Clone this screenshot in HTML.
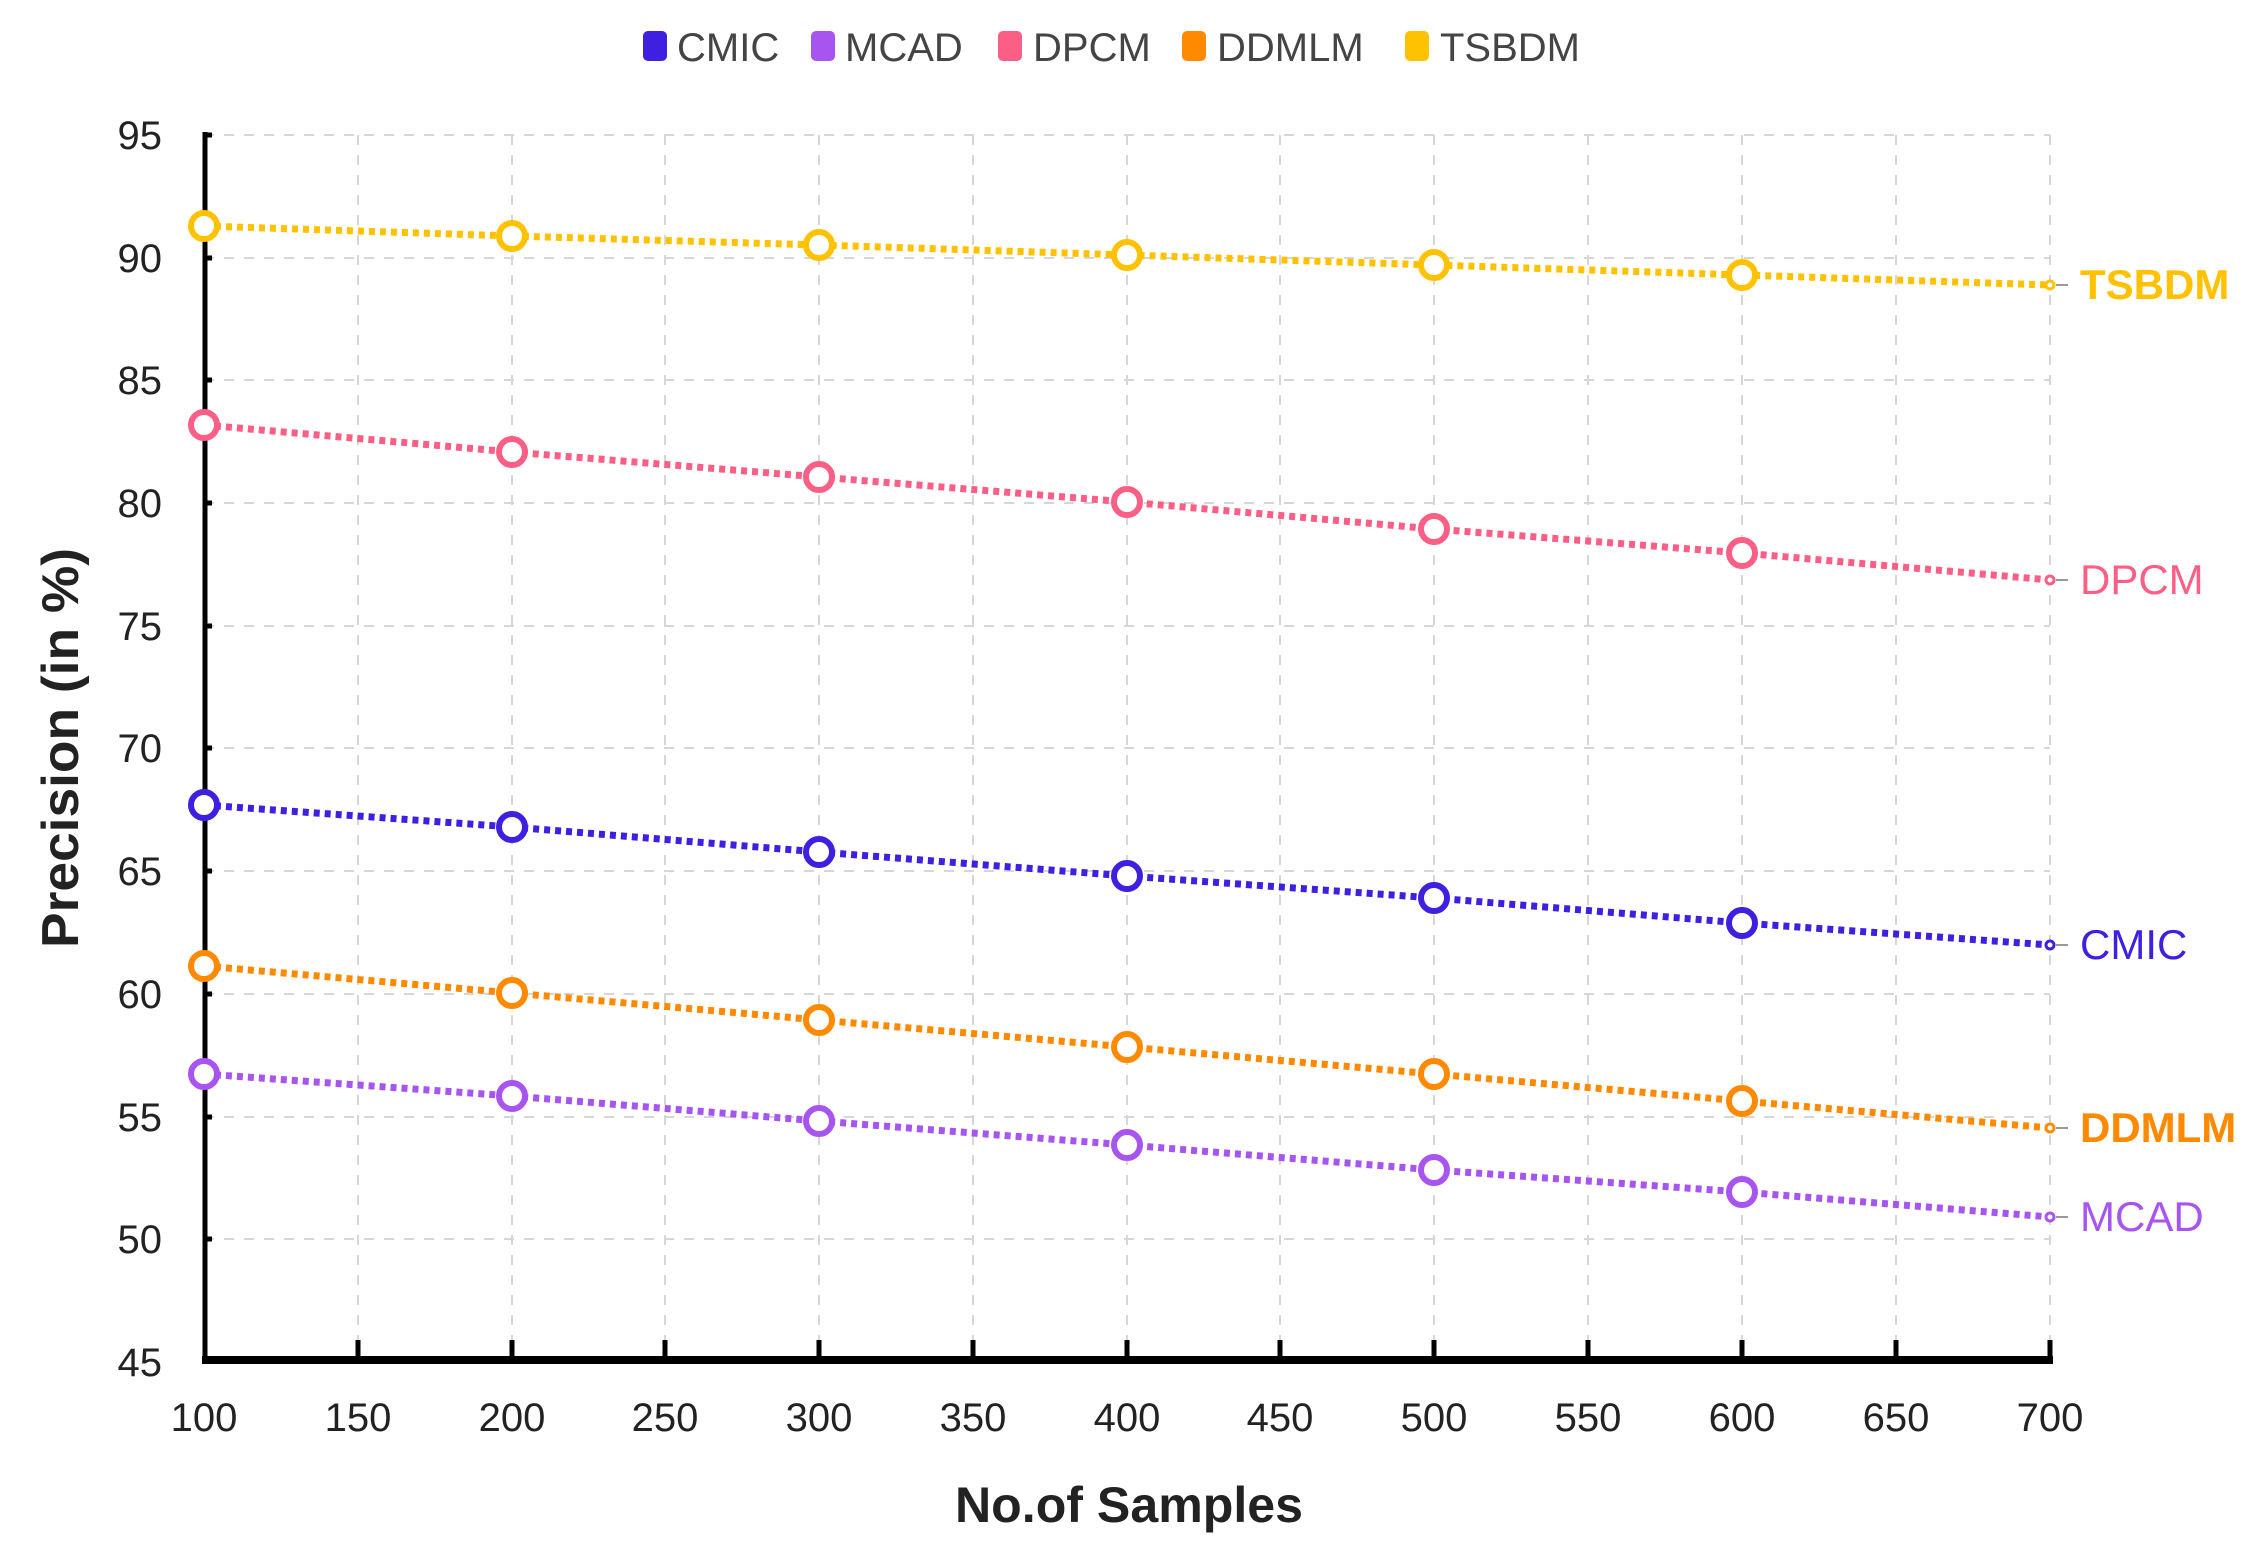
<!DOCTYPE html>
<html><head><meta charset="utf-8"><style>
html,body{margin:0;padding:0;background:#fff;}
svg{display:block;}
text{font-family:"Liberation Sans",sans-serif;}
</style></head><body>
<svg width="2264" height="1552" viewBox="0 0 2264 1552" xmlns="http://www.w3.org/2000/svg">
<rect width="2264" height="1552" fill="#fff"/>
<g stroke="#d6d6d6" stroke-width="2" stroke-dasharray="10 10">
<line x1="204" y1="135" x2="2050" y2="135"/><line x1="204" y1="258" x2="2050" y2="258"/><line x1="204" y1="380" x2="2050" y2="380"/><line x1="204" y1="503" x2="2050" y2="503"/><line x1="204" y1="626" x2="2050" y2="626"/><line x1="204" y1="748" x2="2050" y2="748"/><line x1="204" y1="871" x2="2050" y2="871"/><line x1="204" y1="994" x2="2050" y2="994"/><line x1="204" y1="1117" x2="2050" y2="1117"/><line x1="204" y1="1239" x2="2050" y2="1239"/>
<line x1="358" y1="135" x2="358" y2="1360"/><line x1="512" y1="135" x2="512" y2="1360"/><line x1="665" y1="135" x2="665" y2="1360"/><line x1="819" y1="135" x2="819" y2="1360"/><line x1="973" y1="135" x2="973" y2="1360"/><line x1="1127" y1="135" x2="1127" y2="1360"/><line x1="1280" y1="135" x2="1280" y2="1360"/><line x1="1434" y1="135" x2="1434" y2="1360"/><line x1="1588" y1="135" x2="1588" y2="1360"/><line x1="1742" y1="135" x2="1742" y2="1360"/><line x1="1896" y1="135" x2="1896" y2="1360"/><line x1="2050" y1="135" x2="2050" y2="1360"/>
</g>
<g stroke="#000">
<line x1="205" y1="132" x2="205" y2="1362" stroke-width="5"/>
<line x1="202" y1="1360" x2="2053" y2="1360" stroke-width="8"/>
<g stroke-width="5"><line x1="358" y1="1340" x2="358" y2="1360"/><line x1="512" y1="1340" x2="512" y2="1360"/><line x1="665" y1="1340" x2="665" y2="1360"/><line x1="819" y1="1340" x2="819" y2="1360"/><line x1="973" y1="1340" x2="973" y2="1360"/><line x1="1127" y1="1340" x2="1127" y2="1360"/><line x1="1280" y1="1340" x2="1280" y2="1360"/><line x1="1434" y1="1340" x2="1434" y2="1360"/><line x1="1588" y1="1340" x2="1588" y2="1360"/><line x1="1742" y1="1340" x2="1742" y2="1360"/><line x1="1896" y1="1340" x2="1896" y2="1360"/><line x1="2050" y1="1340" x2="2050" y2="1360"/>
<line x1="205" y1="135" x2="212" y2="135"/><line x1="205" y1="258" x2="212" y2="258"/><line x1="205" y1="380" x2="212" y2="380"/><line x1="205" y1="503" x2="212" y2="503"/><line x1="205" y1="626" x2="212" y2="626"/><line x1="205" y1="748" x2="212" y2="748"/><line x1="205" y1="871" x2="212" y2="871"/><line x1="205" y1="994" x2="212" y2="994"/><line x1="205" y1="1117" x2="212" y2="1117"/><line x1="205" y1="1239" x2="212" y2="1239"/></g>
</g>
<g font-size="40" fill="#222" text-anchor="end">
<text x="162" y="149">95</text><text x="162" y="272">90</text><text x="162" y="394">85</text><text x="162" y="517">80</text><text x="162" y="640">75</text><text x="162" y="762">70</text><text x="162" y="885">65</text><text x="162" y="1008">60</text><text x="162" y="1131">55</text><text x="162" y="1253">50</text><text x="162" y="1376">45</text>
</g>
<g font-size="40" fill="#222" text-anchor="middle">
<text x="204" y="1431">100</text><text x="358" y="1431">150</text><text x="512" y="1431">200</text><text x="665" y="1431">250</text><text x="819" y="1431">300</text><text x="973" y="1431">350</text><text x="1127" y="1431">400</text><text x="1280" y="1431">450</text><text x="1434" y="1431">500</text><text x="1588" y="1431">550</text><text x="1742" y="1431">600</text><text x="1896" y="1431">650</text><text x="2050" y="1431">700</text>
</g>
<text x="1129" y="1522" font-size="50" font-weight="bold" fill="#222" text-anchor="middle" textLength="348" lengthAdjust="spacingAndGlyphs">No.of Samples</text>
<text transform="translate(78,748) rotate(-90)" font-size="52" font-weight="bold" fill="#222" text-anchor="middle" textLength="400" lengthAdjust="spacingAndGlyphs">Precision (in %)</text>
<g font-size="40" fill="#444">
<rect x="643" y="31" width="24" height="30" rx="5" fill="#3f1fe0"/><text x="677" y="61">CMIC</text>
<rect x="811" y="31" width="24" height="30" rx="5" fill="#a855f0"/><text x="845" y="61">MCAD</text>
<rect x="998" y="31" width="24" height="30" rx="5" fill="#fb5f86"/><text x="1033" y="61">DPCM</text>
<rect x="1182" y="31" width="24" height="30" rx="5" fill="#ff8a00"/><text x="1217" y="61">DDMLM</text>
<rect x="1405" y="31" width="24" height="30" rx="5" fill="#ffc200"/><text x="1440" y="61">TSBDM</text>
</g>
<g stroke-width="7" fill="none" stroke-dasharray="6 5">
<polyline stroke="#ffc200" points="204,226 512,236 819,245 1127,255 1434,265 1742,275 2050,285"/>
<polyline stroke="#fb5f86" points="204,425 512,452 819,477 1127,502 1434,529 1742,553 2050,580"/>
<polyline stroke="#3f1fe0" points="204,805 512,827 819,852 1127,876 1434,898 1742,923 2050,945"/>
<polyline stroke="#ff8a00" points="204,966 512,993 819,1020 1127,1047 1434,1074 1742,1101 2050,1128"/>
<polyline stroke="#a855f0" points="204,1074 512,1096 819,1121 1127,1145 1434,1170 1742,1192 2050,1217"/>
</g>
<g fill="#fff" stroke-width="6">
<g stroke="#ffc200"><circle cx="204" cy="226" r="13"/><circle cx="512" cy="236" r="13"/><circle cx="819" cy="245" r="13"/><circle cx="1127" cy="255" r="13"/><circle cx="1434" cy="265" r="13"/><circle cx="1742" cy="275" r="13"/><circle cx="2050" cy="285" r="4" stroke-width="3"/></g>
<g stroke="#fb5f86"><circle cx="204" cy="425" r="13"/><circle cx="512" cy="452" r="13"/><circle cx="819" cy="477" r="13"/><circle cx="1127" cy="502" r="13"/><circle cx="1434" cy="529" r="13"/><circle cx="1742" cy="553" r="13"/><circle cx="2050" cy="580" r="4" stroke-width="3"/></g>
<g stroke="#3f1fe0"><circle cx="204" cy="805" r="13"/><circle cx="512" cy="827" r="13"/><circle cx="819" cy="852" r="13"/><circle cx="1127" cy="876" r="13"/><circle cx="1434" cy="898" r="13"/><circle cx="1742" cy="923" r="13"/><circle cx="2050" cy="945" r="4" stroke-width="3"/></g>
<g stroke="#ff8a00"><circle cx="204" cy="966" r="13"/><circle cx="512" cy="993" r="13"/><circle cx="819" cy="1020" r="13"/><circle cx="1127" cy="1047" r="13"/><circle cx="1434" cy="1074" r="13"/><circle cx="1742" cy="1101" r="13"/><circle cx="2050" cy="1128" r="4" stroke-width="3"/></g>
<g stroke="#a855f0"><circle cx="204" cy="1074" r="13"/><circle cx="512" cy="1096" r="13"/><circle cx="819" cy="1121" r="13"/><circle cx="1127" cy="1145" r="13"/><circle cx="1434" cy="1170" r="13"/><circle cx="1742" cy="1192" r="13"/><circle cx="2050" cy="1217" r="4" stroke-width="3"/></g>
</g>
<g stroke="#999" stroke-width="2">
<line x1="2056" y1="285" x2="2068" y2="285"/><line x1="2056" y1="580" x2="2068" y2="580"/><line x1="2056" y1="945" x2="2068" y2="945"/><line x1="2056" y1="1128" x2="2068" y2="1128"/><line x1="2056" y1="1217" x2="2068" y2="1217"/>
</g>
<g font-size="42">
<text x="2080" y="299" fill="#ffc200" font-weight="bold">TSBDM</text>
<text x="2080" y="594" fill="#fb5f86">DPCM</text>
<text x="2080" y="959" fill="#3f1fe0">CMIC</text>
<text x="2080" y="1142" fill="#ff8a00" font-weight="bold">DDMLM</text>
<text x="2080" y="1231" fill="#a855f0">MCAD</text>
</g>
</svg>
</body></html>
